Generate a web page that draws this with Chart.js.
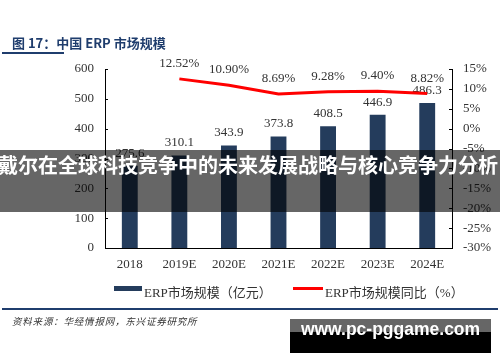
<!DOCTYPE html>
<html>
<head>
<meta charset="utf-8">
<script src="https://cdn.jsdelivr.net/npm/chart.js@4.4.0/dist/chart.umd.min.js"></script>
<style>
  body { margin: 0; background: #fff; }
  #wrap { position: relative; width: 500px; height: 362px; overflow: hidden; font-family: "Liberation Serif", "Noto Sans CJK SC", serif; }
  #box { position: absolute; left: 0; top: 0; width: 500px; height: 362px; }
  .abs { position: absolute; white-space: nowrap; }
  #title { left: 12px; top: 33px; font: bold 13px "Noto Sans CJK SC", sans-serif; color: #1f3d6d; }
  #uline { left: 2px; top: 52px; width: 62px; height: 2px; background: #1f3d6d; }
  #rule { left: 2px; top: 308px; width: 496px; height: 1.5px; background: #1f3d6d; }
  #source { left: 12px; top: 314px; font: italic 9.5px "Noto Sans CJK SC", sans-serif; letter-spacing: 0.8px; color: #333; }
  .lg { top: 282px; font-size: 13px; color: #333; }
  .sw { position: absolute; }
  #band { left: 0; top: 150px; width: 500px; height: 62px; background: rgba(0,0,0,0.6); z-index: 5; }
  #bandtxt { left: -24px; top: 150px; width: 544px; height: 62px; line-height: 62px; text-align: center; font: bold 20px "Noto Sans CJK SC", sans-serif; color: #fff; z-index: 6; }
  #wm { left: 290px; top: 319px; width: 201px; height: 34px; background: linear-gradient(#666 0, #666 13px, #000 13px); z-index: 5; }
  #wmtxt { left: 290px; top: 319px; width: 201px; height: 34px; line-height: 36px; text-align: center; font: bold 17.5px "Liberation Sans", sans-serif; color: #fff; z-index: 6; }
</style>
</head>
<body>
<div id="wrap">
  <div id="box"><canvas id="chart"></canvas></div>
  <div class="abs" id="title">图 17：中国 ERP 市场规模</div>
  <div class="abs" id="uline"></div>
  <div class="sw" style="left:114px;top:286px;width:28px;height:5px;background:#243c5c;"></div>
  <div class="abs lg" style="left:144px;">ERP市场规模（亿元）</div>
  <div class="sw" style="left:293px;top:287px;width:30px;height:3px;background:#ff0000;"></div>
  <div class="abs lg" style="left:325px;">ERP市场规模同比（%）</div>
  <div class="abs" id="rule"></div>
  <div class="abs" id="source">资料来源：华经情报网，东兴证券研究所</div>
  <div class="abs" id="band"></div>
  <div class="abs" id="bandtxt">戴尔在全球科技竞争中的未来发展战略与核心竞争力分析</div>
  <div class="abs" id="wm"></div>
  <div class="abs" id="wmtxt">www.pc-pggame.com</div>
</div>
<script>
var years = ['2018', '2019E', '2020E', '2021E', '2022E', '2023E', '2024E'];
var marketSize = [275.6, 310.1, 343.9, 373.8, 408.5, 446.9, 486.3];
var growth = [null, 12.52, 10.90, 8.69, 9.28, 9.40, 8.82];
var leftTicks = [0, 100, 200, 300, 400, 500, 600];
var rightTicks = [-30, -25, -20, -15, -10, -5, 0, 5, 10, 15];

var numFont = { family: '"Liberation Serif", serif', size: 13 };

// value labels: bar labels before the line is drawn, line labels after
var labels = {
  id: 'labels',
  afterDatasetDraw: function (chart, args) {
    var ctx = chart.ctx;
    ctx.save();
    ctx.font = '13px "Liberation Serif", serif';
    ctx.fillStyle = '#333';
    ctx.textAlign = 'center';
    ctx.textBaseline = 'bottom';
    args.meta.data.forEach(function (el, i) {
      if (args.index === 0) {
        ctx.fillText(marketSize[i].toFixed(1), el.x, el.y - 6);
      } else if (growth[i] !== null) {
        ctx.fillText(growth[i].toFixed(2) + '%', el.x, el.y - 9);
      }
    });
    ctx.restore();
  },
  // small inward tick marks on both value axes
  afterDraw: function (chart) {
    var ctx = chart.ctx;
    var a = chart.chartArea;
    ctx.save();
    ctx.strokeStyle = '#000';
    ctx.lineWidth = 1;
    ctx.beginPath();
    leftTicks.forEach(function (v) {
      var y = Math.round(chart.scales.y.getPixelForValue(v)) + 0.5;
      ctx.moveTo(a.left, y); ctx.lineTo(a.left + 3, y);
    });
    rightTicks.forEach(function (v) {
      var y = Math.round(chart.scales.y1.getPixelForValue(v)) + 0.5;
      ctx.moveTo(a.right, y); ctx.lineTo(a.right - 3, y);
    });
    ctx.stroke();
    ctx.restore();
  }
};

new Chart(document.getElementById('chart'), {
  data: {
    labels: years,
    datasets: [
      {
        type: 'bar',
        label: 'ERP市场规模（亿元）',
        data: marketSize,
        backgroundColor: '#243c5c',
        yAxisID: 'y',
        categoryPercentage: 1,
        barPercentage: 0.32,
        order: 1
      },
      {
        type: 'line',
        label: 'ERP市场规模同比（%）',
        data: growth,
        borderColor: '#ff0000',
        borderWidth: 3,
        pointRadius: 0,
        tension: 0,
        yAxisID: 'y1',
        order: 0
      }
    ]
  },
  options: {
    responsive: true,
    maintainAspectRatio: false,
    animation: false,
    layout: { padding: { top: 69, left: 0, right: 0, bottom: 0 } },
    plugins: { legend: { display: false }, tooltip: { enabled: false } },
    scales: {
      x: {
        grid: { display: false, drawTicks: false },
        border: { display: true, color: '#000', width: 1 },
        ticks: { font: numFont, color: '#333', padding: 9 },
        afterFit: function (s) { s.height = 114; }
      },
      y: {
        position: 'left',
        min: 0, max: 600,
        grid: { display: false, drawTicks: false },
        border: { display: true, color: '#000', width: 1 },
        ticks: { stepSize: 100, font: numFont, color: '#333', padding: 11 },
        afterFit: function (s) { s.width = 105; }
      },
      y1: {
        position: 'right',
        min: -30, max: 15,
        grid: { display: false, drawTicks: false },
        border: { display: true, color: '#000', width: 1 },
        ticks: {
          stepSize: 5, font: numFont, color: '#333', padding: 11,
          callback: function (v) { return v + '%'; }
        },
        afterFit: function (s) { s.width = 48; }
      }
    }
  },
  plugins: [labels]
});
</script>
</body>
</html>
